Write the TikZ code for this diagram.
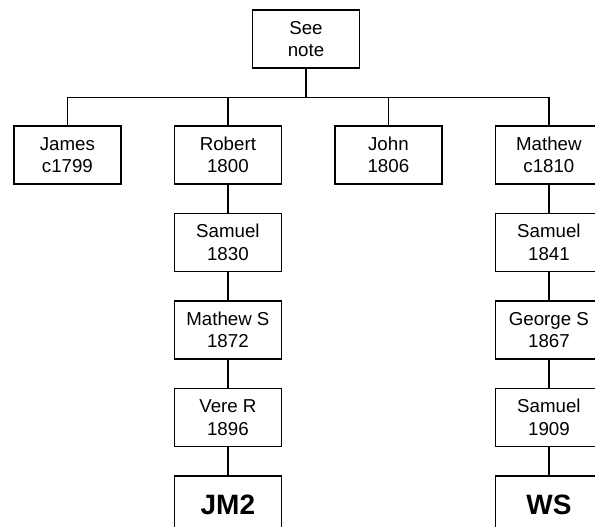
\documentclass[tikz,border=0pt]{standalone}
\usepackage{fontspec}
\setmainfont{Liberation Sans}
\usetikzlibrary{positioning}

\begin{document}
\begin{tikzpicture}[
  node distance=28pt and 52pt,
  person/.style={
    rectangle,
    draw=black,
    fill=white,
    text=black,
    line width=1.5pt,
    minimum width=107pt,
    minimum height=58pt,
    inner sep=0pt,
    font=\fontsize{18.7}{22.5}\selectfont,
    align=center
  },
  branch/.style={
    person,
    font=\fontsize{28}{32}\selectfont\bfseries
  },
  link/.style={
    line width=1.5pt,
    draw=black
  }
]

\useasboundingbox (0,0) rectangle (595pt,-527pt);
\clip (0,0) rectangle (595pt,-527pt);

% Top
\node[person] (note) at (306pt,-39pt) {See\\note};

% First generation
\node[person] (james) at (67.4pt,-155pt) {James\\c1799};
\node[person, right=of james] (robert) {Robert\\1800};
\node[person, right=of robert] (john) {John\\1806};
\node[person, right=of john] (mathew) {Mathew\\c1810};

% Left line
\node[person, below=of robert] (samuela) {Samuel\\1830};
\node[person, below=of samuela] (mathews) {Mathew S\\1872};
\node[person, below=of mathews] (vere) {Vere R\\1896};
\node[branch, below=of vere] (jm) {JM2};

% Right line
\node[person, below=of mathew] (samuelb) {Samuel\\1841};
\node[person, below=of samuelb] (george) {George S\\1867};
\node[person, below=of george] (samuelc) {Samuel\\1909};
\node[branch, below=of samuelc] (ws) {WS};

% Lines from top
\draw[link] (note.south) -- ++(0,-29pt) coordinate (bus);
\draw[link] (james.north) |- (bus) -| (mathew.north);
\draw[link] (robert.north) -- (robert.north |- bus);
\draw[link] (john.north) -- (john.north |- bus);

% Lines down
\draw[link] (robert) -- (samuela);
\draw[link] (samuela) -- (mathews);
\draw[link] (mathews) -- (vere);
\draw[link] (vere) -- (jm);
\draw[link] (mathew) -- (samuelb);
\draw[link] (samuelb) -- (george);
\draw[link] (george) -- (samuelc);
\draw[link] (samuelc) -- (ws);

\end{tikzpicture}
\end{document}
